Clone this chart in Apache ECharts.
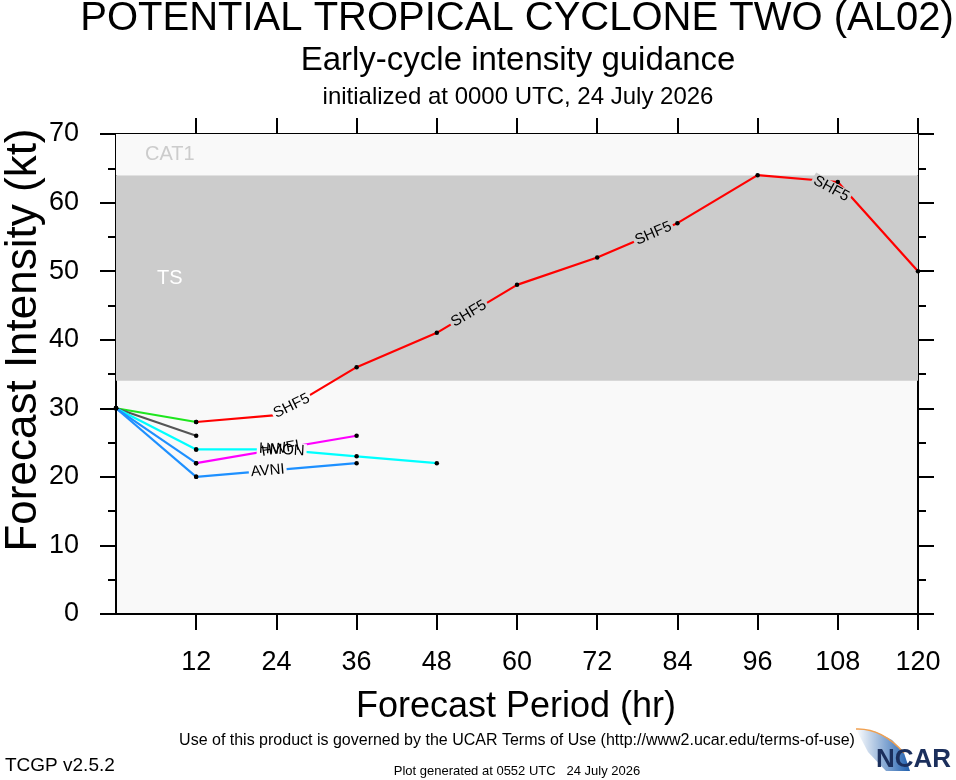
<!DOCTYPE html>
<html>
  <head>
    <meta charset="utf-8" />
    <style>
      html, body {margin: 0; padding: 0; background: #fff;}
      #chart {width: 956px; height: 780px;}
    </style>
    <script src="https://cdn.jsdelivr.net/npm/echarts@6.0.0/dist/echarts.min.js"></script>
  </head>
  <body>
    <div id="chart"></div>
    <script type="text/javascript">
      // forecast hours and intensities (kt), null = no forecast at that hour
      var hours = [0, 12, 24, 36, 48, 60, 72, 84, 96, 108, 120];
      var shf5 = [30, 28, 29, 36, 41, 48, 52, 57, 64, 63, 50];
      var gray12 = [30, 26];
      var hmon = [30, 24, 24, 23, 22];
      var hwfi = [30, 22, null, 26];
      var avni = [30, 20, null, 22];

      var xTicks = [12, 24, 36, 48, 60, 72, 84, 96, 108, 120];
      var tsBand = [34, 64];
      var cat1Band = [64, 70];

      // in-line model labels: text, hour where it sits, and which track
      var labelText = ['SHF5', 'SHF5', 'SHF5', 'SHF5', 'HWFI', 'HMON', 'AVNI'];
      var labelHour = [26.3, 52.8, 80.4, 107.6, 24.6, 24.8, 22.7];
      var labelTrack = [shf5, shf5, shf5, shf5, hwfi, hmon, avni];

      var FONT = "'Liberation Sans', Arial, Helvetica, sans-serif";

      var models = [
        {name: 'SHF5', values: shf5, color: '#ff0000', lead: '#1ee61e'},
        {name: 'G12', values: gray12, color: '#555555', lead: '#555555'},
        {name: 'HMON', values: hmon, color: '#00ffff', lead: '#00ffff'},
        {name: 'HWFI', values: hwfi, color: '#ff00ff', lead: '#1e90ff'},
        {name: 'AVNI', values: avni, color: '#1e90ff', lead: '#1e90ff'}
      ];

      function pts(vals, from, to) {
        var out = [];
        for (var i = from; i < Math.min(vals.length, to); i++) {
          if (vals[i] != null) out.push([hours[i], vals[i]]);
        }
        return out;
      }

      function interp(vals, h) {
        var p = pts(vals, 0, vals.length);
        if (h <= p[0][0]) return p[0][1];
        for (var i = 1; i < p.length; i++) {
          if (h <= p[i][0]) {
            var t = (h - p[i - 1][0]) / (p[i][0] - p[i - 1][0]);
            return p[i - 1][1] + t * (p[i][1] - p[i - 1][1]);
          }
        }
        return p[p.length - 1][1];
      }

      function lineSeries(name, data, color, z) {
        return {
          name: name, type: 'line', data: data, z: z,
          symbol: 'circle', symbolSize: 4.5, showSymbol: true, connectNulls: true,
          lineStyle: {color: color, width: 2.2},
          itemStyle: {color: '#000'},
          emphasis: {disabled: true}, silent: true
        };
      }

      function labelData(rots, withBg) {
        return labelText.map(function (t, i) {
          var y = interp(labelTrack[i], labelHour[i]);
          var inBand = y > tsBand[0] && y < tsBand[1];
          // the label after the 96 h peak sits a little under the line
          var drop = (i === 3) ? 8 : 0;
          return {
            name: t, value: [labelHour[i], y],
            label: {rotate: rots[i], offset: [0, drop],
                    backgroundColor: withBg ? (inBand ? '#cccccc' : '#f9f9f9') : 'transparent'}
          };
        });
      }

      function labelSeries(id, z, color, withBg, rots) {
        return {
          id: id, type: 'scatter', z: z, silent: true, symbolSize: 1,
          itemStyle: {color: 'transparent', opacity: 1},
          data: labelData(rots, withBg),
          label: {show: true, position: 'inside', formatter: function (p) { return p.name; },
                  color: color, opacity: 1, fontSize: 15, lineHeight: 14, fontFamily: FONT,
                  padding: [0, 2], textBorderWidth: 0, textShadowBlur: 0}
        };
      }

      var series = [];
      models.forEach(function (m) {
        series.push(lineSeries(m.name + '_0', pts(m.values, 0, 2), m.lead, 3));
        if (m.values.length > 2) series.push(lineSeries(m.name, pts(m.values, 1, m.values.length), m.color, 4));
      });
      // shaded intensity bands
      series[1].markArea = {
        silent: true,
        data: [
          [{name: 'TS', yAxis: tsBand[0], itemStyle: {color: '#cccccc'},
            label: {color: '#ffffff'}}, {yAxis: tsBand[1]}],
          [{name: 'CAT1', yAxis: cat1Band[0], itemStyle: {color: '#f9f9f9'},
            label: {color: '#cccccc', distance: 29}}, {yAxis: cat1Band[1]}]
        ],
        label: {show: true, position: 'insideLeft', distance: 41, fontSize: 20, fontFamily: FONT}
      };
      var zeros = labelText.map(function () { return 0; });
      series.push(labelSeries('labelMask', 8, 'transparent', true, zeros));
      series.push(labelSeries('labelText', 12, '#000', false, zeros));

      var axisLine = {show: true, onZero: false, lineStyle: {color: '#000', width: 2}};
      var tickStyle = {color: '#000', width: 2};

      var chart = echarts.init(document.getElementById('chart'));
      var option = {
        animation: false,
        textStyle: {fontFamily: FONT},
        grid: {left: 116, right: 38, top: 134, bottom: 166, show: true,
               backgroundColor: '#f9f9f9', borderWidth: 0},
        xAxis: [
          {type: 'value', min: 0, max: 120, position: 'bottom', axisLine: axisLine,
           axisTick: {show: true, length: 16, customValues: xTicks, lineStyle: tickStyle},
           axisLabel: {customValues: xTicks, fontSize: 27, color: '#000', margin: 35, fontFamily: FONT},
           splitLine: {show: false}},
          {type: 'value', min: 0, max: 120, position: 'top', axisLine: axisLine,
           axisTick: {show: true, length: 16, customValues: xTicks, lineStyle: tickStyle},
           axisLabel: {show: false}, splitLine: {show: false}}
        ],
        yAxis: [
          {type: 'value', min: 0, max: 70, interval: 10, position: 'left', axisLine: axisLine,
           axisTick: {show: true, length: 16, lineStyle: tickStyle},
           minorTick: {show: true, splitNumber: 2, length: 8, lineStyle: tickStyle},
           axisLabel: {fontSize: 27, color: '#000', margin: 37, fontFamily: FONT},
           splitLine: {show: false}, minorSplitLine: {show: false}},
          {type: 'value', min: 0, max: 70, interval: 10, position: 'right', axisLine: axisLine,
           axisTick: {show: true, length: 16, lineStyle: tickStyle},
           minorTick: {show: true, splitNumber: 2, length: 8, lineStyle: tickStyle},
           axisLabel: {show: false}, splitLine: {show: false}, minorSplitLine: {show: false}}
        ],
        graphic: [
          {type: 'text', style: {text: 'POTENTIAL TROPICAL CYCLONE TWO (AL02)', x: 517, y: 19,
            align: 'center', verticalAlign: 'middle', fontSize: 40, fontFamily: FONT, fill: '#000'}},
          {type: 'text', style: {text: 'Early-cycle intensity guidance', x: 518, y: 61,
            align: 'center', verticalAlign: 'middle', fontSize: 33, fontFamily: FONT, fill: '#000'}},
          {type: 'text', style: {text: 'initialized at 0000 UTC, 24 July 2026', x: 518, y: 97,
            align: 'center', verticalAlign: 'middle', fontSize: 24, fontFamily: FONT, fill: '#000'}},
          {type: 'text', x: 24, y: 340, rotation: Math.PI / 2,
           style: {text: 'Forecast Intensity (kt)', x: 0, y: 0, align: 'center', verticalAlign: 'middle',
            fontSize: 44, fontFamily: FONT, fill: '#000'}},
          {type: 'text', style: {text: 'Forecast Period (hr)', x: 516, y: 707,
            align: 'center', verticalAlign: 'middle', fontSize: 36, fontFamily: FONT, fill: '#000'}},
          {type: 'text', style: {text: 'Use of this product is governed by the UCAR Terms of Use (http://www2.ucar.edu/terms-of-use)',
            x: 517, y: 741, align: 'center', verticalAlign: 'middle', fontSize: 16, fontFamily: FONT, fill: '#000'}},
          {type: 'text', style: {text: 'TCGP v2.5.2', x: 5, y: 766,
            align: 'left', verticalAlign: 'middle', fontSize: 19, fontFamily: FONT, fill: '#000'}},
          {type: 'text', style: {text: 'Plot generated at 0552 UTC   24 July 2026', x: 517, y: 771,
            align: 'center', verticalAlign: 'middle', fontSize: 13, fontFamily: FONT, fill: '#000'}},
          // NCAR logo
          {type: 'polygon', shape: {points: [[856, 729], [874, 731], [892, 740], [904, 753], [910, 771], [886, 771], [868, 752]]},
           style: {fill: new echarts.graphic.LinearGradient(0, 0, 1, 0, [
             {offset: 0, color: '#ffffff'}, {offset: 1, color: '#1f5fae'}])}},
          {type: 'bezierCurve', shape: {x1: 856, y1: 729, cpx1: 882, cpy1: 728, x2: 904, y2: 753},
           style: {stroke: '#f0a050', lineWidth: 1.5, fill: null}},
          {type: 'text', style: {text: 'NCAR', x: 951, y: 760, align: 'right', verticalAlign: 'middle',
            fontSize: 26, fontWeight: 'bold', fontFamily: "'Liberation Sans Narrow', " + FONT, fill: '#1b2f5c'}}
        ],
        series: series
      };
      chart.setOption(option);

      // rotate each in-line label along its track, measured in pixels
      var rots = labelText.map(function (t, i) {
        var h = labelHour[i], tr = labelTrack[i];
        var a = chart.convertToPixel({xAxisIndex: 0, yAxisIndex: 0}, [h - 4, interp(tr, h - 4)]);
        var b = chart.convertToPixel({xAxisIndex: 0, yAxisIndex: 0}, [h + 4, interp(tr, h + 4)]);
        return -Math.atan2(b[1] - a[1], b[0] - a[0]) * 180 / Math.PI;
      });
      chart.setOption({series: [labelSeries('labelMask', 8, 'transparent', true, rots),
                                labelSeries('labelText', 12, '#000', false, rots)]});
    </script>
  </body>
</html>
